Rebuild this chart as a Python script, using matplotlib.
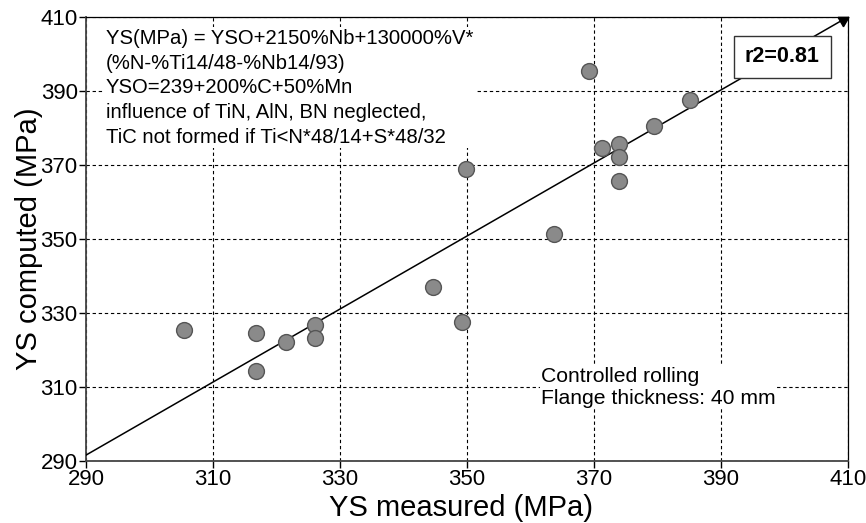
import numpy as np
import matplotlib
matplotlib.use("Agg")
import matplotlib.pyplot as plt

plt.rcParams['font.family'] = ['Liberation Sans', 'DejaVu Sans']

# YS measured vs computed (MPa)
ys_measured = [305.4, 316.8, 316.8, 321.5, 326.0, 326.0, 344.7, 349.3, 349.9,
               363.7, 369.2, 371.3, 374.0, 374.0, 374.0, 379.5, 385.1]
ys_computed = [325.4, 324.5, 314.4, 322.1, 326.8, 323.2, 336.9, 327.6, 368.8,
               351.3, 395.5, 374.7, 375.6, 372.1, 365.7, 380.5, 387.6]

# regression line ends
fit_x = [290, 410]
fit_y = [291.6, 410]
r2_label = "r2=0.81"

ticks = [290, 310, 330, 350, 370, 390, 410]

fig = plt.figure(figsize=(8.66, 5.23), dpi=100)
ax = fig.add_axes([0.0993, 0.1185, 0.8797, 0.849])

ax.set_xlim(290, 410)
ax.set_ylim(290, 410)
ax.set_xticks(ticks)
ax.set_yticks(ticks)
ax.tick_params(labelsize=16, direction='out', length=5, width=1, pad=1)
ax.grid(True, color='black', linestyle=(0, (3, 2.5)), linewidth=0.8)

for s in ['top', 'right']:
    ax.spines[s].set_linewidth(0.9)
for s in ['left', 'bottom']:
    ax.spines[s].set_linewidth(1.3)
    ax.spines[s].set_color('#444444')

ax.plot(fit_x, fit_y, color='black', linewidth=1.1, zorder=3)
ax.plot([fit_x[1] - 0.8], [fit_y[1] - 0.9], marker=(3, 0, 180), markersize=9,
        color='black', clip_on=False, zorder=4)

ax.scatter(ys_measured, ys_computed, s=130, color='#8a8a8a',
           edgecolors='#555555', linewidths=1.0, zorder=5)

ax.text(399.7, 399.2, r2_label, ha='center', va='center', fontsize=15.5,
        fontweight='bold', zorder=6,
        bbox=dict(boxstyle='square,pad=0.5', facecolor='white',
                  edgecolor='#333333', linewidth=1.0))

ax.text(293.1, 406.8,
        "YS(MPa) = YSO+2150%Nb+130000%V*\n(%N-%Ti14/48-%Nb14/93)\n"
        "YSO=239+200%C+50%Mn\ninfluence of TiN, AlN, BN neglected,\n"
        "TiC not formed if Ti<N*48/14+S*48/32",
        ha='left', va='top', fontsize=14.6, linespacing=1.38, zorder=2,
        bbox=dict(facecolor='white', edgecolor='none', pad=1))

ax.text(361.7, 309.9, "Controlled rolling\nFlange thickness: 40 mm",
        ha='left', va='center', fontsize=15.2, linespacing=1.2, zorder=2,
        bbox=dict(facecolor='white', edgecolor='none', pad=1))

ax.set_xlabel("YS measured (MPa)", fontsize=21, va='center')
ax.set_ylabel("YS computed (MPa)", fontsize=21, va='center')
ax.xaxis.set_label_coords(0.492, -0.106)
ax.yaxis.set_label_coords(-0.0748, 0.5)

fig.savefig("out.png", dpi=100)
